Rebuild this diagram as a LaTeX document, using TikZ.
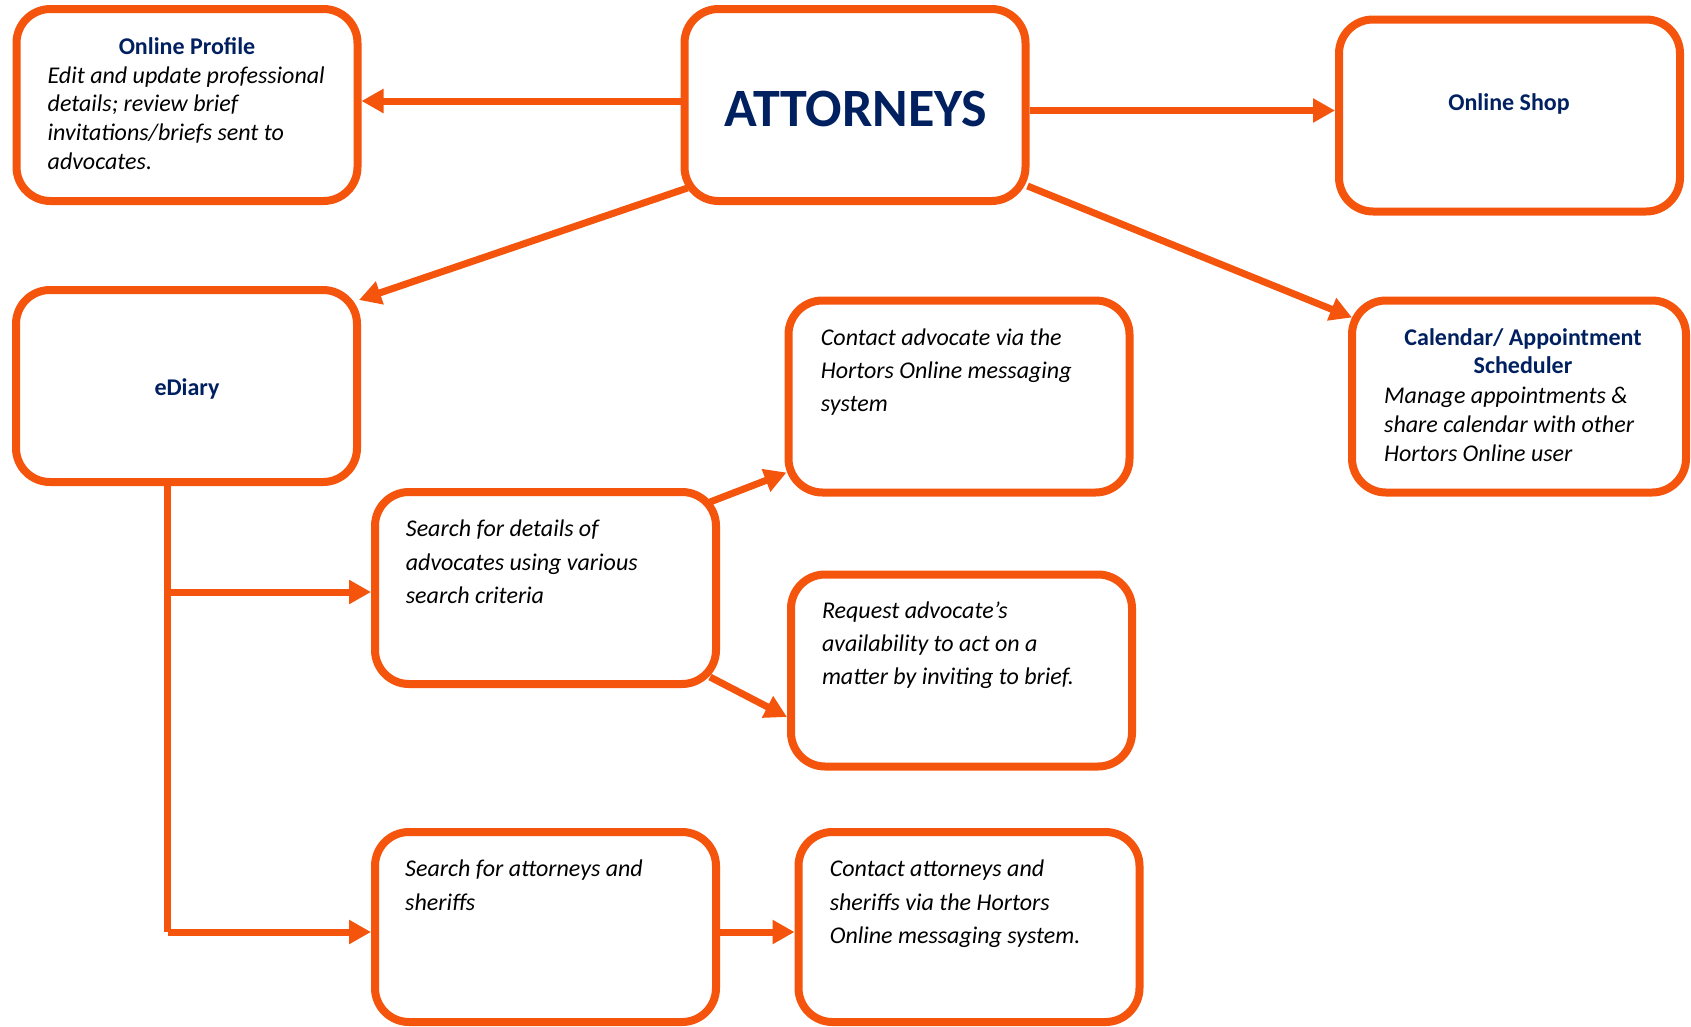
\documentclass[tikz,border=0pt]{standalone}
\usepackage{fontspec}
\setmainfont{Carlito}
\usetikzlibrary{arrows.meta,calc,backgrounds}
\definecolor{orng}{RGB}{245,84,13}
\definecolor{navy}{RGB}{0,32,96}
\begin{document}
\begin{tikzpicture}[x=1pt,y=-1pt,
  box/.style={draw=orng, line width=8pt, rounded corners=34pt, fill=white,
    minimum width=341pt, minimum height=192pt, inner sep=0pt},
  conn/.style={draw=orng, line width=7pt},
  arr/.style={conn, -{Triangle[length=22pt,width=23pt]}},
  ttl/.style={font=\fontsize{24}{28.8}\selectfont\bfseries, text=navy, inner sep=0pt, anchor=base},
  body/.style={font=\fontsize{24}{28.8}\selectfont\itshape, align=left, inner sep=0pt, anchor=base west},
  bodyw/.style={font=\fontsize{24}{33.3}\selectfont\itshape, align=left, inner sep=0pt, anchor=base west}]
\path[use as bounding box] (0,0) rectangle (1691,1026);

% boxes
\node[box] (prof) at (187,105) {};
\node[box] (att) at (855,105) {};
\node[box] (shop) at (1509.5,115.5) {};
\node[box] (ediary) at (186.5,386) {};
\node[box, minimum width=334pt] (cal) at (1519,396.5) {};
\node[box] (ca) at (959,396.5) {};
\node[box] (sd) at (545.5,588) {};
\node[box] (req) at (961.5,670.5) {};
\node[box, minimum height=190pt] (sa) at (545.5,927) {};
\node[box, minimum height=190pt] (cat) at (969,927) {};

% connectors
\coordinate (trunktop) at (ediary.south -| 167.5,0);
\coordinate (j1) at (167.5,592);
\coordinate (j2) at (167.5,932);
\begin{pgfonlayer}{background}
\fill[white] (0,0) rectangle (1691,1026);
\draw[arr] (att.west |- 0,101) -- (prof.east |- 0,101);
\draw[arr] (att.east |- 0,110.5) -- (shop.west |- 0,110.5);
\draw[arr] ($(att.south west)+(7,-17)$) -- ($(ediary.north east)+(-2,14)$);
\draw[arr] ($(att.south east)+(-2,-19)$) -- ($(cal.north west)+(4,21)$);
\draw[conn] (trunktop) -- (j2);
\draw[arr] (j1) -- (sd.west |- j1);
\draw[arr] (j2) -- (sa.west |- j2);
\draw[arr] ($(sd.north east)+(-10,14)$) -- ($(ca.south west)+(2,-24)$);
\draw[arr] ($(sd.south east)+(-10,-11)$) -- ($(req.west)+(0,46.5)$);
\draw[arr] (sa.east |- 0,932) -- (cat.west |- 0,932);
\end{pgfonlayer}

% texts (base anchor = baseline of the last line)
\node[ttl] (proft) at (187,54) {Online Profile};
\node[body] (profb) at (47.5,169.4) {Edit and update professional\\details; review brief\\invitations/briefs sent to\\advocates.};
\node[ttl, font=\fontsize{54}{62}\selectfont\bfseries] (attt) at (856,126) {ATTORNEYS};
\node[ttl] (shopt) at (1509,110) {Online Shop};
\node[ttl] (ediaryt) at (187,395) {eDiary};
\node[ttl, align=center] (calt) at (1523,373.8) {Calendar/ Appointment\\Scheduler};
\node[body] (calb) at (1384,461) {Manage appointments \&\\share calendar with other\\Hortors Online user};
\node[bodyw] (cat1) at (820.7,411.6) {Contact advocate via the\\Hortors Online messaging\\system};
\node[bodyw] (sdt) at (405.7,603.3) {Search for details of\\advocates using various\\search criteria};
\node[bodyw] (reqt) at (821.8,684.6) {Request advocate’s\\availability to act on a\\matter by inviting to brief.};
\node[bodyw] (sat) at (405,910) {Search for attorneys and\\sheriffs};
\node[bodyw] (catt) at (829.6,943.3) {Contact attorneys and\\sheriffs via the Hortors\\Online messaging system.};
\end{tikzpicture}
\end{document}
